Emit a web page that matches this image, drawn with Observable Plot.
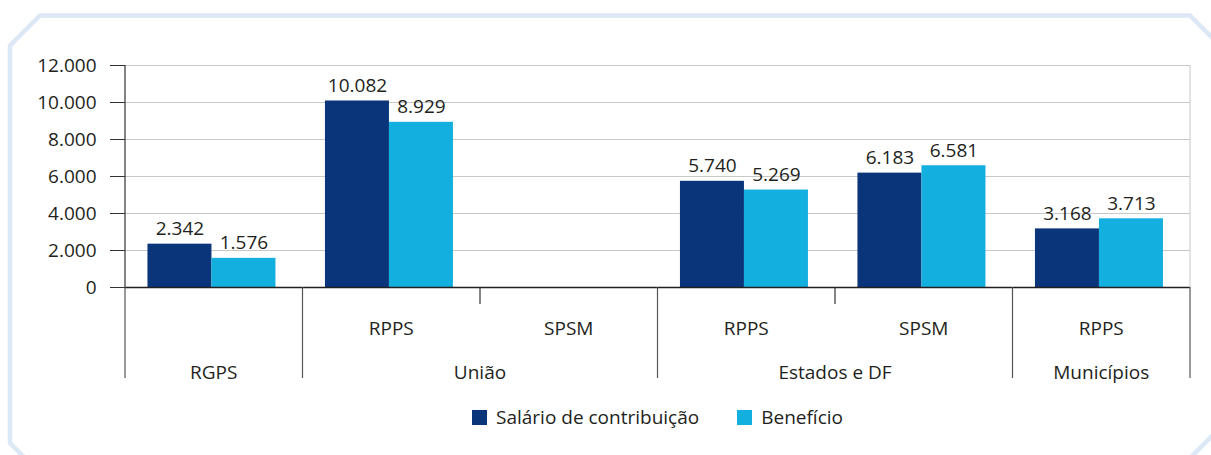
<!DOCTYPE html>
<html>
<head>
<meta charset="utf-8">
<script src="https://cdn.jsdelivr.net/npm/d3@7"></script>
<script src="https://cdn.jsdelivr.net/npm/@observablehq/plot@0.6"></script>
<style>
  html, body { margin: 0; padding: 0; background: #fff; }
  #wrap { position: relative; width: 1211px; height: 455px; overflow: hidden; font-family: "Open Sans", sans-serif; color: #231f20; }
  #deco { position: absolute; left: 0; top: 0; pointer-events: none; }
  #legend { position: absolute; left: 0; top: 405px; width: 1211px; box-sizing: border-box; padding-left: 125px; padding-right: 21px;
            display: flex; justify-content: center; gap: 38px; font-size: 19px; line-height: 25px; }
  .item { display: flex; align-items: center; }
  .sw { width: 15px; height: 15px; margin-right: 9px; display: inline-block; }
</style>
</head>
<body>
<div id="wrap">
  <div id="chart"></div>
  <div id="legend"></div>
  <svg id="deco" width="1211" height="455">
    <polygon points="10,45.5 40,15.5 1190,15.5 1225,50.5 1225,423 1175,473 40,473 10,443"
             fill="none" stroke="#dce8f5" stroke-width="4.5"/>
  </svg>
</div>
<script>
// ---- data ----
const groups = ["RGPS", "União", "União", "Estados e DF", "Estados e DF", "Municípios"];
const subcats = ["", "RPPS", "SPSM", "RPPS", "SPSM", "RPPS"];
const salario = [2342, 10082, null, 5740, 6183, 3168];
const beneficio = [1576, 8929, null, 5269, 6581, 3713];
const seriesNames = ["Salário de contribuição", "Benefício"];
const yTicks = [0, 2000, 4000, 6000, 8000, 10000, 12000];

// ---- styles ----
const colors = ["#0a357a", "#13afde"];
const textColor = "#231f20";
const FS = 19;
const W = 1211, H = 395, mL = 125, mR = 21, mT = 65, mB = 108;
const bw = (W - mL - mR) / subcats.length;
const barW = 64, shift = -2.3;

const locale = d3.formatLocale({decimal: ",", thousands: ".", grouping: [3], currency: ["R$", ""]});
const fmt = locale.format(",d");

const slotIds = groups.map((g, i) => g + "|" + subcats[i]);
const rowsS = slotIds.map((s, i) => ({slot: s, value: salario[i]})).filter(d => d.value != null);
const rowsB = slotIds.map((s, i) => ({slot: s, value: beneficio[i]})).filter(d => d.value != null);

function bottomAxis(index, scales, values, dims) {
  const x = scales.x;
  const band = typeof x.bandwidth === "function" ? x.bandwidth() : bw;
  const y0 = scales.y(0);
  const yTop = scales.y(yTicks[yTicks.length - 1]);
  const g = d3.create("svg:g")
    .attr("font-family", "Open Sans, sans-serif")
    .attr("font-size", FS)
    .attr("fill", textColor);
  // left axis line and right frame line
  g.append("line").attr("x1", dims.marginLeft).attr("x2", dims.marginLeft)
    .attr("y1", yTop).attr("y2", y0).attr("stroke", "#333").attr("stroke-width", 1.2);
  const xr = dims.width - dims.marginRight;
  g.append("line").attr("x1", xr).attr("x2", xr)
    .attr("y1", yTop).attr("y2", y0).attr("stroke", "#c8c8c8");
  // separators
  slotIds.forEach((id, i) => {
    const left = x(id);
    const start = i === 0 || groups[i] !== groups[i - 1];
    g.append("line").attr("x1", left).attr("x2", left)
      .attr("y1", y0).attr("y2", y0 + (start ? 91 : 17))
      .attr("stroke", start ? "#555" : "#333").attr("stroke-width", 1.2);
  });
  const lastRight = x(slotIds[slotIds.length - 1]) + band;
  g.append("line").attr("x1", lastRight).attr("x2", lastRight)
    .attr("y1", y0).attr("y2", y0 + 91).attr("stroke", "#555").attr("stroke-width", 1.2);
  // sub-category row
  subcats.forEach((s, i) => {
    if (!s) return;
    g.append("text").attr("x", x(slotIds[i]) + band / 2).attr("y", y0 + 47.5)
      .attr("text-anchor", "middle").text(s);
  });
  // group row
  const seen = [];
  groups.forEach((gname) => {
    if (seen.includes(gname)) return;
    seen.push(gname);
    const idx = groups.map((v, j) => v === gname ? j : -1).filter(j => j >= 0);
    const a = x(slotIds[idx[0]]), b = x(slotIds[idx[idx.length - 1]]) + band;
    g.append("text").attr("x", (a + b) / 2).attr("y", y0 + 91.5)
      .attr("text-anchor", "middle").text(gname);
  });
  return g.node();
}

const chart = Plot.plot({
  width: W, height: H,
  marginLeft: mL, marginRight: mR, marginTop: mT, marginBottom: mB,
  style: {fontFamily: "Open Sans, sans-serif", fontSize: FS + "px", color: textColor, background: "transparent"},
  x: {domain: slotIds, padding: 0, round: false, axis: null},
  y: {domain: [0, 12000], axis: null},
  marks: [
    Plot.gridY(yTicks, {stroke: "#c8c8c8", strokeOpacity: 1}),
    Plot.barY(rowsS, {x: "slot", y: "value", fill: colors[0],
      insetLeft: bw / 2 - barW + shift, insetRight: bw / 2 - shift}),
    Plot.barY(rowsB, {x: "slot", y: "value", fill: colors[1],
      insetLeft: bw / 2 + shift, insetRight: bw / 2 - barW - shift}),
    Plot.text(rowsS, {x: "slot", y: "value", text: d => fmt(d.value), dx: -barW / 2 + shift, dy: -9,
      lineAnchor: "bottom", fontSize: FS, fill: textColor}),
    Plot.text(rowsB, {x: "slot", y: "value", text: d => fmt(d.value), dx: barW / 2 + shift, dy: -9,
      lineAnchor: "bottom", fontSize: FS, fill: textColor}),
    Plot.ruleY([0], {stroke: "#231f20", strokeWidth: 1.6}),
    Plot.axisY(yTicks, {tickSize: 15, tickPadding: 14, tickFormat: fmt, fontSize: FS, stroke: "#333", label: null}),
    bottomAxis
  ]
});
document.getElementById("chart").appendChild(chart);

// legend
const lg = document.getElementById("legend");
seriesNames.forEach((name, i) => {
  const item = document.createElement("div");
  item.className = "item";
  const sw = document.createElement("span");
  sw.className = "sw";
  sw.style.background = colors[i];
  const t = document.createElement("span");
  t.textContent = name;
  item.appendChild(sw);
  item.appendChild(t);
  lg.appendChild(item);
});
</script>
</body>
</html>
